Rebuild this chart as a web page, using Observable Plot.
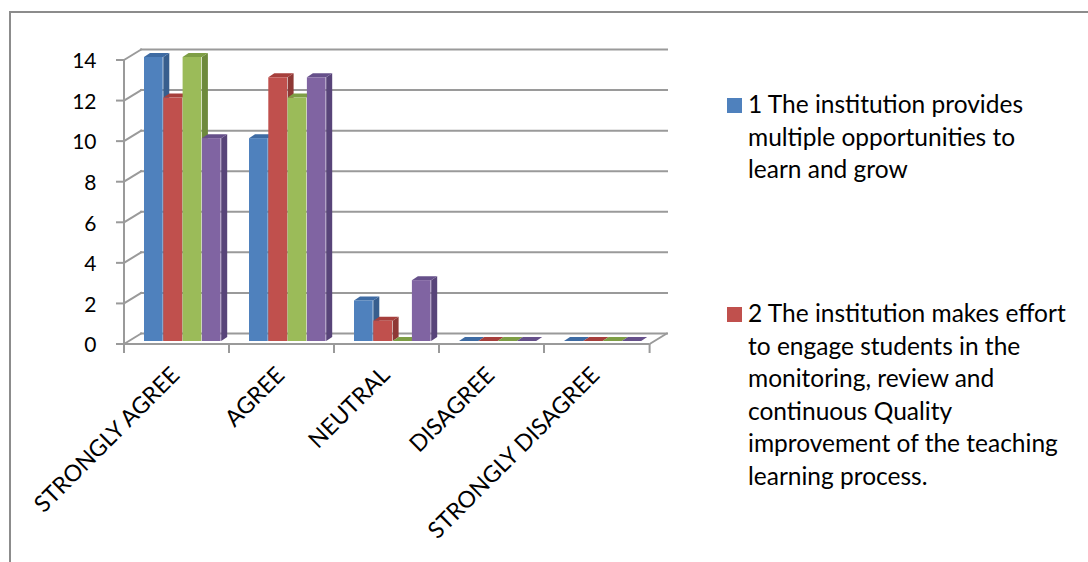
<!DOCTYPE html>
<html><head><meta charset="utf-8">
<script src="https://cdn.jsdelivr.net/npm/d3@7"></script>
<script src="https://cdn.jsdelivr.net/npm/@observablehq/plot@0.6"></script>
<style>
body{margin:0;background:#fff;}
#wrap{position:relative;width:1088px;height:562px;overflow:hidden;background:#fff;font-family:Lato,"Open Sans",sans-serif;}
#frame{position:absolute;left:9px;top:11px;width:1200px;height:700px;border-top:2px solid #8c8c8c;border-left:2px solid #8c8c8c;}
#chart{position:absolute;left:0;top:0;}
#legend{position:absolute;left:0;top:0;}
</style></head>
<body><div id="wrap"><div id="frame"></div><div id="chart"></div><svg id="legend" width="1088" height="562"></svg></div>
<script>
// ---- data ----
const categories = ["STRONGLY AGREE", "AGREE", "NEUTRAL", "DISAGREE", "STRONGLY DISAGREE"];
const series1 = [14, 10, 2, 0, 0];
const series2 = [12, 13, 1, 0, 0];
const series3 = [14, 12, 0, 0, 0];
const series4 = [10, 13, 3, 0, 0];
const seriesValues = [series1, series2, series3, series4];
const legendLines1 = ["1 The institution provides", "multiple opportunities to", "learn and grow"];
const legendLines2 = ["2 The institution makes effort", "to engage students in the", "monitoring, review and", "continuous Quality", "improvement of the teaching", "learning process."];
const yTicks = [0, 2, 4, 6, 8, 10, 12, 14];

// ---- styles ----
const fillColors = ["#4F81BD", "#C0504D", "#9BBB59", "#8064A2"];
const topColors  = ["#3E6BA3", "#A63F3C", "#7E9E45", "#66508A"];
const sideColors = ["#375E8E", "#8E3835", "#6E8A3C", "#584479"];
const gridColor = "#9a9a9a";

const W = 1088, H = 562;
const left = 122, right = 650;         // front plane of category axis
const bw = (right - left) / categories.length;
const groupInset = 20, barW = 19.3;
const depthX = 18, depthY = 11;         // back wall offset
const barDX = 6, barDY = 4;             // bar depth

function bandStart(x, c) { return x(c); }

// decorations: diagonals, floor, axis line, ticks
const decor = (index, scales) => {
  const x = scales.x, y = scales.y;
  const g = d3.create("svg:g").attr("stroke", gridColor).attr("stroke-width", 2).attr("fill", "none");
  const x0 = bandStart(x, categories[0]);
  const x1 = bandStart(x, categories[categories.length - 1]) + bw;
  for (const v of yTicks) {
    const yf = y(v) + 3, yb = y(v) - 8;
    g.append("line").attr("x1", x0).attr("y1", yf).attr("x2", x0 + depthX).attr("y2", yb);
    g.append("line").attr("x1", x0 - 8).attr("y1", yf).attr("x2", x0).attr("y2", yf);
  }
  const yf0 = y(0) + 3, yb0 = y(0) - 8;
  g.append("line").attr("x1", x0).attr("y1", yf0).attr("x2", x1).attr("y2", yf0);
  g.append("line").attr("x1", x1).attr("y1", yf0).attr("x2", x1 + depthX).attr("y2", yb0);
  g.append("line").attr("x1", x0).attr("y1", y(yTicks[yTicks.length - 1]) + 3).attr("x2", x0).attr("y2", yf0 + 9);
  for (let i = 0; i <= categories.length; i++) {
    const xx = i < categories.length ? bandStart(x, categories[i]) : x1;
    g.append("line").attr("x1", xx).attr("y1", yf0).attr("x2", xx).attr("y2", yf0 + 9);
  }
  return g.node();
};

// 3D side + top faces of one series
const faces = (j) => (index, scales) => {
  const x = scales.x, y = scales.y;
  const g = d3.create("svg:g");
  categories.forEach((c, i) => {
    const v = seriesValues[j][i];
    const a = bandStart(x, c) + groupInset + j * barW;
    const b = a + barW;
    const yt = y(v), yb = y(0);
    g.append("path")
      .attr("d", `M${b},${yt}L${b + barDX},${yt - barDY}L${b + barDX},${yb - barDY}L${b},${yb}Z`)
      .attr("fill", sideColors[j]);
    g.append("path")
      .attr("d", `M${a},${yt}L${b},${yt}L${b + barDX},${yt - barDY}L${a + barDX},${yt - barDY}Z`)
      .attr("fill", topColors[j]);
  });
  return g.node();
};

const barMarks = [];
seriesValues.forEach((vals, j) => {
  const rows = categories.map((c, i) => ({category: c, value: vals[i]}));
  barMarks.push(faces(j));
  barMarks.push(Plot.barY(rows, {
    x: "category", y: "value", fill: fillColors[j],
    insetLeft: groupInset + j * barW,
    insetRight: bw - groupInset - (j + 1) * barW
  }));
});

const chart = Plot.plot({
  width: W, height: H,
  marginLeft: left, marginRight: W - right,
  marginTop: 57, marginBottom: H - 341,
  style: {background: "transparent", fontFamily: "Lato, 'Open Sans', sans-serif", overflow: "visible"},
  x: {type: "band", domain: categories, padding: 0, axis: null},
  y: {domain: [0, 14], axis: null},
  marks: [
    Plot.ruleY(yTicks, {y: d => d, dx: depthX, dy: -8, stroke: gridColor, strokeWidth: 2}),
    decor,
    ...barMarks,
    Plot.text(yTicks, {y: d => d, text: d => String(d), frameAnchor: "left", dx: -26, dy: 4,
      textAnchor: "end", fontSize: 21, fill: "#000"}),
    Plot.text(categories, {x: d => d, text: d => d, frameAnchor: "bottom", rotate: -45,
      textAnchor: "end", dx: 4, dy: 35, fontSize: 23, fill: "#000"})
  ]
});
document.getElementById("chart").appendChild(chart);

// ---- legend ----
const lg = d3.select("#legend");
const entries = [{lines: legendLines1, color: fillColors[0], top: 98}, {lines: legendLines2, color: fillColors[1], top: 307}];
for (const e of entries) {
  lg.append("rect").attr("x", 727).attr("y", e.top).attr("width", 15).attr("height", 15).attr("fill", e.color);
  e.lines.forEach((t, k) => {
    lg.append("text").attr("x", 748).attr("y", e.top + 15 + k * 32.6)
      .attr("font-family", "Lato, 'Open Sans', sans-serif").attr("font-size", 24.5).attr("fill", "#000").text(t);
  });
}
</script>
</body></html>
